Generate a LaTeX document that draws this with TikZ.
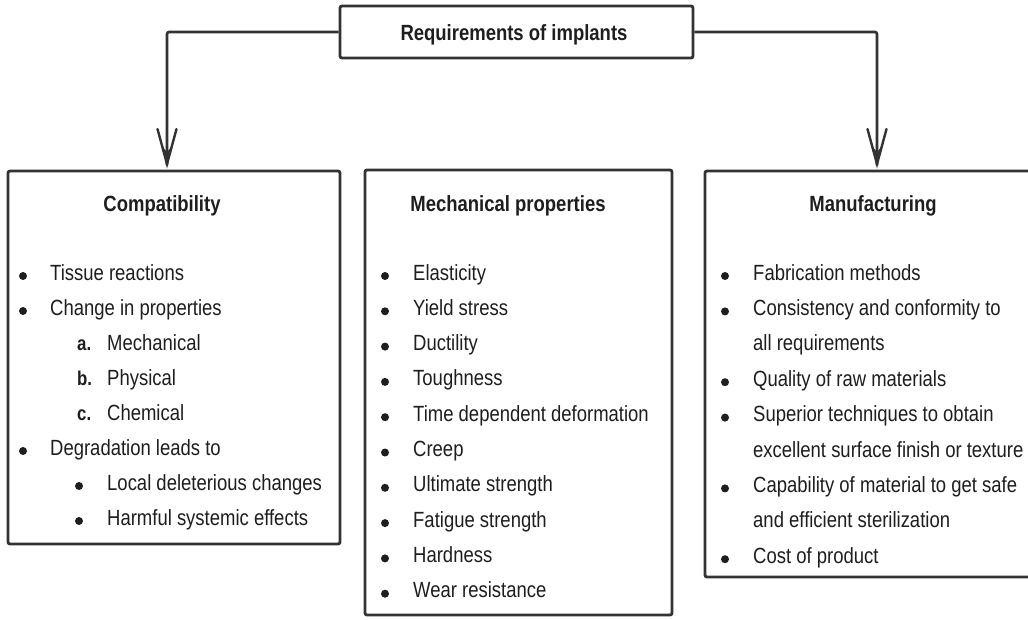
\documentclass[tikz,border=0pt]{standalone}
\usepackage{fontspec}
\setmainfont[FakeStretch=0.84]{Liberation Sans}
\definecolor{ink}{HTML}{1E1E1E}
\definecolor{edge}{HTML}{333333}
\tikzset{
  box/.style={draw=edge, line width=2.8pt, rounded corners=2pt, inner sep=0pt},
  txt/.style={anchor=base west, inner sep=0pt, text=ink, font=\fontsize{22}{26}\selectfont},
  lbl/.style={anchor=base west, inner sep=0pt, text=ink, font=\fontsize{20}{24}\selectfont\bfseries},
  ttl/.style={anchor=base, inner sep=0pt, text=ink, font=\fontsize{22}{26}\selectfont\bfseries},
  conn/.style={draw=edge, line width=2.6pt, rounded corners=2pt},
  barb/.style={draw=edge, line width=2.4pt, line join=miter, line cap=round},
  barbfill/.style={fill=edge},
  dot/.style={fill=ink}
}
\begin{document}
\begin{tikzpicture}[x=1pt,y=-1pt]
\useasboundingbox (0,0) rectangle (1028,619);
\clip (0,0) rectangle (1028,619);
\fill[white] (0,0) rectangle (1028,619);

% top box
\node[box, minimum width=353pt, minimum height=52pt] (top) at (516.5,32) {};
\node[ttl] (toptxt) at (514,40) {Requirements of implants};

% category boxes
\node[box, minimum width=332pt, minimum height=373pt] (comp) at (174,357.5) {};
\node[box, minimum width=307pt, minimum height=445pt] (mech) at (518.5,392.5) {};
\node[box, minimum width=340pt, minimum height=406pt] (manu) at (875,374) {};

% connectors
\coordinate (tipL) at (167,165);
\coordinate (tipR) at (877,165);
\draw[conn] (top.west) -| (tipL);
\draw[conn] (top.east) -| (tipR);
\foreach \p in {tipL,tipR}{
  \draw[barb, shift={(\p)}] (-9.5,-36) -- (0,-1) -- (9.5,-36);
  \fill[barbfill, shift={(\p)}] (0,1) -- (-6,-20) -- (0,-13) -- (6,-20) -- cycle;
}

% Compatibility
\node[ttl] (ct) at (162,211) {Compatibility};
\fill[dot] (23,276) circle (4pt);
\node[txt] (c1) at (50,280) {Tissue reactions};
\fill[dot] (23,311) circle (4pt);
\node[txt] (c2) at (50,315) {Change in properties};
\node[lbl] (ca) at (77,350) {a.};
\node[txt] (c3) at (107,350) {Mechanical};
\node[lbl] (cb) at (77,385) {b.};
\node[txt] (c4) at (107,385) {Physical};
\node[lbl] (cc) at (77,420) {c.};
\node[txt] (c5) at (107,420) {Chemical};
\fill[dot] (23,451) circle (4pt);
\node[txt] (c6) at (50,455) {Degradation leads to};
\fill[dot] (79,486) circle (4pt);
\node[txt] (c7) at (107,490) {Local deleterious changes};
\fill[dot] (79,521) circle (4pt);
\node[txt] (c8) at (107,525) {Harmful systemic effects};

% Mechanical properties
\node[ttl] (mt) at (508,211) {Mechanical properties};
\foreach \t [count=\i from 0] in {Elasticity,Yield stress,Ductility,Toughness,Time dependent deformation,Creep,Ultimate strength,Fatigue strength,Hardness,Wear resistance}{
  \fill[dot] (385,{276+35.3*\i}) circle (4pt);
  \node[txt] (m\i) at (413,{280+35.3*\i}) {\t};
}

% Manufacturing
\node[ttl] (ft) at (873,211) {Manufacturing};
\fill[dot] (725,276) circle (4pt);
\node[txt] (f1) at (753,280) {Fabrication methods};
\fill[dot] (725,311.4) circle (4pt);
\node[txt] (f2) at (753,315.4) {Consistency and conformity to};
\node[txt] (f3) at (753,350.8) {all requirements};
\fill[dot] (725,382.2) circle (4pt);
\node[txt] (f4) at (753,386.2) {Quality of raw materials};
\fill[dot] (725,417.6) circle (4pt);
\node[txt] (f5) at (753,421.6) {Superior techniques to obtain};
\node[txt] (f6) at (753,457) {excellent surface finish or texture};
\fill[dot] (725,488.4) circle (4pt);
\node[txt] (f7) at (753,492.4) {Capability of material to get safe};
\node[txt] (f8) at (753,527.8) {and efficient sterilization};
\fill[dot] (725,559.2) circle (4pt);
\node[txt] (f9) at (753,563.2) {Cost of product};
\end{tikzpicture}
\end{document}
